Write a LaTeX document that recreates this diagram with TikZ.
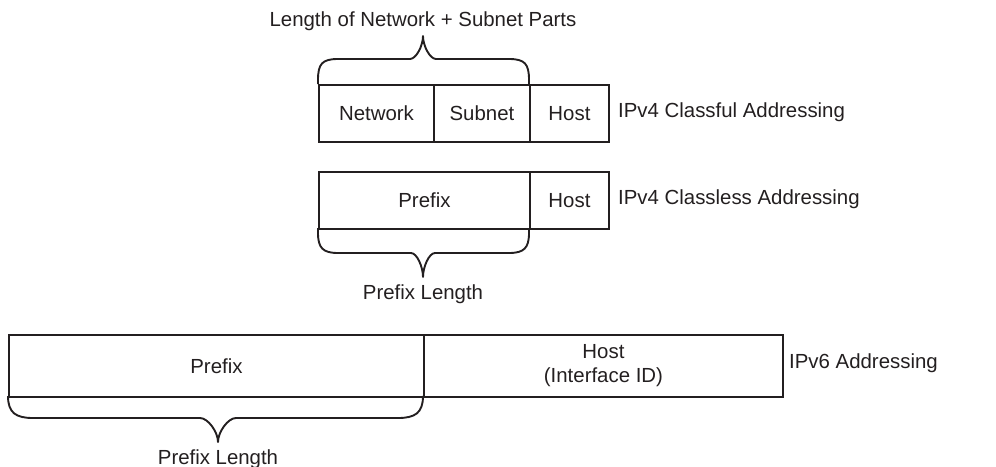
\documentclass[tikz,border=0pt]{standalone}
\usepackage{fontspec}
\setmainfont{Liberation Sans}
\definecolor{ink}{HTML}{231F20}
\begin{document}
\begin{tikzpicture}[x=1pt,y=-1pt,
  cell/.style={draw=ink,line width=1.9pt,inner sep=0pt,anchor=north west,
    font=\fontsize{20.4}{24}\selectfont,text=ink,align=center},
  lbl/.style={inner sep=0pt,font=\fontsize{20.4}{24}\selectfont,text=ink},
  brc/.style={draw=ink,line width=1.9pt,line join=round}]
\useasboundingbox (0,0) rectangle (996,466);
% row 1
\node[cell,minimum width=115pt,minimum height=57pt] (net) at (318,84) {Network};
\node[cell,minimum width=96pt,minimum height=57pt] (sub) at (433,84) {Subnet};
\node[cell,minimum width=79pt,minimum height=57pt] (host1) at (529,84) {Host};
\node[lbl,anchor=west] (l1) at (618,112) {IPv4 Classful Addressing};
\node[lbl,anchor=base] (t1) at (423,26) {Length of Network + Subnet Parts};
\draw[brc] (318,84) -- (318,80) .. controls (318,64) and (322,59) .. (338,59) -- (410,59)
  .. controls (416,59) and (423,46) .. (423,36) .. controls (423,46) and (430,59) .. (436,59)
  -- (509,59) .. controls (525,59) and (529,64) .. (529,80) -- (529,84);
% row 2
\node[cell,minimum width=211pt,minimum height=57pt] (pre2) at (318,171) {Prefix};
\node[cell,minimum width=79pt,minimum height=57pt] (host2) at (529,171) {Host};
\node[lbl,anchor=west] (l2) at (618,199) {IPv4 Classless Addressing};
\node[lbl,anchor=base] (t2) at (423,299) {Prefix Length};
\draw[brc] (318,228) -- (318,233) .. controls (318,248) and (323,253) .. (338,253) -- (411,253)
  .. controls (417,253) and (423,267) .. (423,277) .. controls (423,267) and (429,253) .. (435,253)
  -- (509,253) .. controls (524,253) and (529,248) .. (529,233) -- (529,228);
% row 3
\node[cell,minimum width=415pt,minimum height=62pt] (pre3) at (8,334) {Prefix};
\node[cell,minimum width=359pt,minimum height=62pt] (host3) at (423,334) {Host\\(Interface ID)};
\node[lbl,anchor=west] (l3) at (789,363) {IPv6 Addressing};
\node[lbl,anchor=base] (t3) at (218,464) {Prefix Length};
\draw[brc] (8,396) .. controls (8,413) and (16,418) .. (33,418) -- (200,418)
  .. controls (208,418) and (218,432) .. (218,442) .. controls (218,432) and (228,418) .. (236,418)
  -- (398,418) .. controls (415,418) and (423,413) .. (423,396);
\end{tikzpicture}
\end{document}
